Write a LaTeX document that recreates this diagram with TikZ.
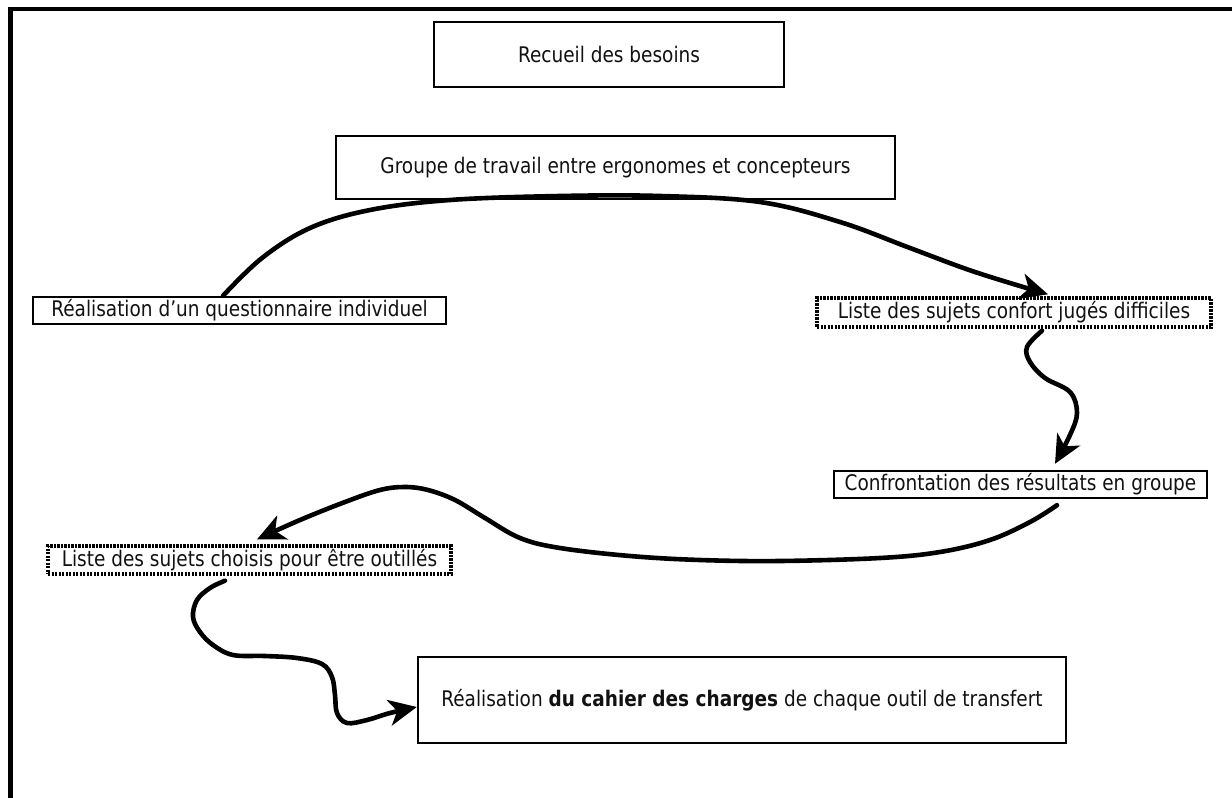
\documentclass[tikz,border=0pt]{standalone}
\usepackage{fontspec}
\setmainfont{DejaVu Sans}[FakeStretch=0.86]
\usetikzlibrary{arrows.meta}
\definecolor{ink}{HTML}{111111}
\tikzset{
  solidbox/.style={draw=black, line width=2.4pt, inner sep=0pt, text=ink, font=\fontsize{21.5}{25}\selectfont},
  dotbox/.style={draw=black, line width=3.4pt, dash pattern=on 2.2pt off 1.3pt, inner sep=0pt, text=ink, font=\fontsize{21.5}{25}\selectfont},
  flow/.style={line width=4.6pt, line cap=round, line join=round, -{Stealth[length=28pt,width=26pt,inset=8pt]}}
}
\begin{document}
\begin{tikzpicture}[x=1pt,y=-1pt]
\useasboundingbox (0,0) rectangle (1232,798);
% frame
\draw[line width=4.2pt] (10.5,798) -- (10.5,9) -- (1232,9);
% boxes
\node[solidbox, minimum width=350pt, minimum height=65pt] (rec) at (609,54.5) {Recueil des besoins};
\node[solidbox, minimum width=559pt, minimum height=63pt] (grp) at (615.5,167.5) {\raisebox{4pt}{Groupe de travail entre ergonomes et concepteurs}};
\node[solidbox, minimum width=413pt, minimum height=27pt] (q) at (239.5,310.5) {Réalisation d'un questionnaire individuel};
\node[dotbox, minimum width=394pt, minimum height=29pt] (conf) at (1014,312.5) {Liste des sujets confort jugés difficiles};
\node[solidbox, minimum width=373pt, minimum height=27pt] (cfr) at (1020.5,484.5) {Confrontation des résultats en groupe};
\node[dotbox, minimum width=403pt, minimum height=28pt] (cho) at (249.5,560) {Liste des sujets choisis pour être outillés};
\node[solidbox, minimum width=648pt, minimum height=86pt] (cah) at (742,700) {Réalisation \textbf{du cahier des charges} de chaque outil de transfert};
% connectors
\draw[flow] plot[smooth, tension=0.6] coordinates {([xshift=-16.5pt]q.north) (262,258) (310,228) (370,210) (450,200) (560,196) (660,196) (760,202) (840,222) (910,248) (975,272) ([xshift=34pt,yshift=2pt]conf.north)};
\draw[flow] plot[smooth, tension=0.6] coordinates {([xshift=28pt,yshift=-2pt]conf.south) (1027,347) (1030,362) (1045,378) (1070,392) (1077,413) (1070,435) ([xshift=34.5pt,yshift=6pt]cfr.north)};
\draw[flow] plot[smooth, tension=0.6] coordinates {([xshift=36.5pt,yshift=-6pt]cfr.south) (1030,522) (990,540) (940,552) (880,558) (780,561) (700,560) (630,556) (560,548) (520,538) (485,518) (455,500) (428,490) (405,487) (380,490) (345,502) (300,520) ([xshift=7.5pt,yshift=5pt]cho.north)};
\draw[flow] plot[smooth, tension=0.6] coordinates {([xshift=-24.5pt,yshift=-5pt]cho.south) (210,588) (197,600) (193,617) (200,632) (213,645) (233,655) (265,656) (297,658) (322,664) (332,677) (335,695) (337,713) (347,723) (367,720) (390,713) ([yshift=-7pt]cah.west)};
\end{tikzpicture}
\end{document}
